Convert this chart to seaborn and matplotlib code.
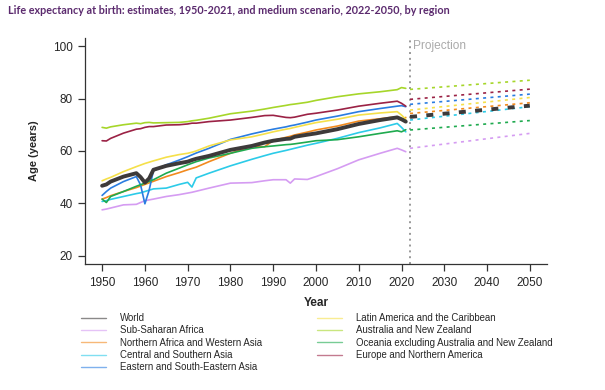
import numpy as np
import pandas as pd
import matplotlib
matplotlib.use("Agg")
import matplotlib.pyplot as plt
from matplotlib.lines import Line2D
import seaborn as sns

# ── DATA ──────────────────────────────────────────────────────
years_est = [1950, 1951, 1952, 1955, 1958, 1959, 1960, 1961, 1962, 1965,
             1968, 1970, 1971, 1972, 1975, 1980, 1985, 1988, 1990, 1993,
             1994, 1995, 1998, 2000, 2005, 2010, 2015, 2019, 2020, 2021]
years_proj = [2022, 2050]

world = [46.7, 47.2, 48.3, 50.2, 51.5, 50.0, 47.9, 49.5, 52.8, 54.3,
         55.3, 55.9, 56.5, 57.0, 58.1, 60.4, 61.9, 63.2, 63.9, 64.6,
         64.7, 65.4, 66.2, 66.7, 68.3, 70.3, 71.8, 72.8, 72.1, 71.2]
ssa = [37.5, 37.8, 38.2, 39.4, 39.6, 40.3, 41.0, 41.3, 41.6, 42.6,
       43.3, 43.9, 44.2, 44.6, 45.8, 47.7, 47.9, 48.6, 49.0, 49.0,
       47.7, 49.3, 49.1, 50.2, 53.2, 56.6, 59.1, 61.0, 60.4, 59.7]
nawa = [41.6, 42.2, 42.9, 44.5, 46.0, 46.6, 47.2, 47.8, 48.4, 50.2,
        51.7, 52.8, 53.3, 53.8, 55.9, 59.1, 61.8, 61.6, 64.0, 65.2,
        65.6, 66.1, 67.2, 68.0, 69.5, 71.4, 72.3, 73.1, 71.8, 72.8]
csa = [40.7, 41.0, 41.5, 42.6, 43.7, 44.0, 44.5, 45.0, 45.5, 45.8,
       47.2, 48.0, 46.2, 49.7, 51.5, 54.3, 56.8, 58.2, 59.1, 60.2,
       60.6, 61.0, 62.2, 62.9, 64.8, 67.0, 68.8, 70.5, 69.0, 67.3]
esea = [43.0, 44.5, 45.8, 48.3, 50.2, 47.0, 39.8, 45.0, 52.5, 54.7,
        56.5, 57.8, 58.5, 59.2, 61.0, 64.4, 66.5, 67.6, 68.3, 69.2,
        69.6, 69.9, 71.0, 71.8, 73.3, 75.0, 76.2, 77.1, 77.3, 76.9]
lac = [48.6, 49.3, 49.9, 52.1, 54.0, 54.6, 55.2, 55.7, 56.2, 57.6,
       58.6, 59.1, 59.5, 60.0, 61.9, 64.2, 65.4, 66.5, 67.3, 68.3,
       68.6, 69.0, 70.1, 70.8, 72.1, 73.7, 74.5, 75.0, 73.7, 72.1]
anz = [69.0, 68.7, 69.2, 70.0, 70.6, 70.4, 70.8, 70.9, 70.7, 70.8,
       70.9, 71.2, 71.5, 71.7, 72.5, 74.2, 75.2, 76.0, 76.6, 77.4,
       77.7, 77.9, 78.6, 79.3, 80.7, 81.8, 82.6, 83.4, 84.2, 83.9]
oce = [41.6, 40.3, 42.6, 44.5, 46.5, 47.1, 47.7, 48.4, 49.0, 51.5,
       53.4, 54.7, 55.3, 55.9, 57.3, 59.1, 61.0, 61.6, 61.9, 62.4,
       62.5, 62.7, 63.4, 63.9, 64.3, 65.4, 66.7, 67.7, 67.3, 68.1]
ena = [63.9, 63.8, 64.8, 66.8, 68.3, 68.5, 69.0, 69.3, 69.3, 69.9,
       70.0, 70.3, 70.6, 70.6, 71.2, 71.8, 72.8, 73.5, 73.6, 72.8,
       72.7, 72.9, 74.0, 74.4, 75.6, 77.1, 78.2, 79.0, 78.2, 77.1]

world_proj = [73.0, 77.3]
ssa_proj = [61.0, 66.7]
nawa_proj = [74.3, 78.4]
csa_proj = [71.8, 76.9]
esea_proj = [77.8, 81.7]
lac_proj = [75.6, 80.4]
anz_proj = [83.5, 87.0]
oce_proj = [68.0, 71.6]
ena_proj = [79.7, 83.6]

regions = ["World", "Sub-Saharan Africa", "Northern Africa and Western Asia",
           "Central and Southern Asia", "Eastern and South-Eastern Asia",
           "Latin America and the Caribbean", "Australia and New Zealand",
           "Oceania excluding Australia and New Zealand",
           "Europe and Northern America"]
est_values = [world, ssa, nawa, csa, esea, lac, anz, oce, ena]
proj_values = [world_proj, ssa_proj, nawa_proj, csa_proj, esea_proj,
               lac_proj, anz_proj, oce_proj, ena_proj]

colors = ["#3d3a3a", "#d59cf2", "#f28a1e", "#2ccbe8", "#2a7de1",
          "#f5e04a", "#a6d62a", "#1faa4f", "#9b2245"]

TITLE_PURPLE = "#5b2a6e"
GRAY = "#999999"

# ── FIGURE ────────────────────────────────────────────────────
sns.set_style("white")
plt.rcParams["font.family"] = ["Liberation Sans", "DejaVu Sans"]

fig = plt.figure(figsize=(6.05, 3.9), dpi=100)
ax = fig.add_axes([0.1405, 0.323, 0.7635, 0.58])

# draw the non-World regions first, World on top
order = list(range(1, len(regions))) + [0]
for i in order:
    est = pd.DataFrame({"year": years_est, "age": est_values[i]})
    proj = pd.DataFrame({"year": years_proj, "age": proj_values[i]})
    if i == 0:
        sns.lineplot(data=est, x="year", y="age", color=colors[i], lw=2.8,
                     ax=ax, zorder=5)
        sns.lineplot(data=proj, x="year", y="age", color=colors[i], lw=2.8,
                     ax=ax, zorder=5).lines[-1].set_dashes((1.8, 2.4))
    else:
        sns.lineplot(data=est, x="year", y="age", color=colors[i], lw=1.2,
                     ax=ax, zorder=3)
        sns.lineplot(data=proj, x="year", y="age", color=colors[i], lw=1.2,
                     ax=ax, zorder=3).lines[-1].set_dashes((1.8, 2.6))

# projection divider
ax.axvline(2022, color=GRAY, lw=1.4, ls=(0, (1, 2)), ymin=0, ymax=1.0,
           clip_on=False, zorder=2)
ax.text(2022.6, 100.2, "Projection", color="#aaaaaa", fontsize=8.6,
        va="center", ha="left")

ax.set_xlim(1946, 2054)
ax.set_ylim(16.8, 103.2)
ax.set_xticks(range(1950, 2051, 10))
ax.set_yticks([20, 40, 60, 80, 100])
ax.tick_params(axis="both", direction="out", length=5, width=0.9,
               color="#333333", labelsize=8.5, pad=4, left=True, bottom=True)
for side in ["top", "right"]:
    ax.spines[side].set_visible(False)
for side in ["left", "bottom"]:
    ax.spines[side].set_color("#333333")
    ax.spines[side].set_linewidth(0.9)

ax.set_xlabel("Year", fontsize=8.5, fontweight="bold", labelpad=6)
ax.set_ylabel("Age (years)", fontsize=8, fontweight="bold", labelpad=10)

fig.text(0.013, 0.972, "Life expectancy at birth: estimates, 1950-2021, and "
         "medium scenario, 2022-2050, by region", color=TITLE_PURPLE,
         fontsize=7.75, fontweight="bold", family=["Lato", "DejaVu Sans"],
         va="center", ha="left")

# two-column legend under the plot
def handles_for(idx):
    return [Line2D([0], [0], color=colors[k], lw=1.0, alpha=0.6) for k in idx]

col1 = [0, 1, 2, 3, 4]
col2 = [5, 6, 7, 8]
leg_kw = dict(frameon=False, fontsize=6.9, handlelength=2.6,
              handletextpad=1.4, labelspacing=0.24, borderaxespad=0)
leg1 = fig.legend(handles_for(col1), [regions[k] for k in col1],
                  loc="upper left", bbox_to_anchor=(0.128, 0.207), **leg_kw)
leg2 = fig.legend(handles_for(col2), [regions[k] for k in col2],
                  loc="upper left", bbox_to_anchor=(0.518, 0.207), **leg_kw)

fig.savefig("out.png", dpi=100, facecolor="white")
